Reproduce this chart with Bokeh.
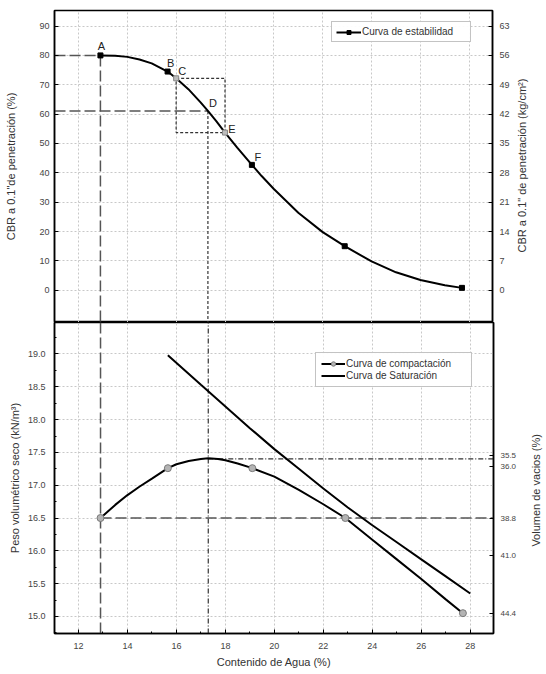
import math
from bokeh.plotting import figure
from bokeh.models import (Range1d, LinearAxis, FixedTicker, SingleIntervalTicker,
                          Legend, LegendItem, ColumnDataSource, PrintfTickFormatter)
from bokeh.layouts import column, row
from bokeh.embed import file_html
from bokeh.resources import INLINE
from bokeh.core.properties import value

# ---------------- data ----------------
# stability curve (CBR) - measured points (black squares)
cbr_pt_w = [12.9, 15.65, 19.1, 22.9, 27.7]
cbr_pt_v = [80.0, 74.5, 42.7, 15.0, 0.8]
# read-off points C and E (grey markers)
ce_w = [16.0, 18.0]
ce_v = [72.2, 53.7]
# smooth stability curve
cbr_curve_w = [12.9, 13.5, 14.0, 14.5, 15.0, 15.65, 16.0, 16.5, 17.0, 17.3, 17.65,
               18.0, 18.5, 19.1, 19.5, 20.0, 21.0, 22.0, 22.9, 24.0, 25.0, 26.0, 27.0, 27.7]
cbr_curve_v = [80.0, 79.9, 79.5, 78.6, 77.3, 74.5, 72.2, 68.5, 64.0, 61.1, 57.5,
               53.7, 48.6, 42.7, 38.9, 34.5, 26.4, 19.8, 15.0, 9.8, 6.1, 3.5, 1.7, 0.8]
letters = ["A", "B", "C", "D", "E", "F"]
letter_w = [12.9, 15.65, 16.0, 17.3, 18.0, 19.1]
letter_v = [80.0, 74.5, 72.2, 61.1, 53.7, 42.7]

cbr_ticks = [0, 10, 20, 30, 40, 50, 60, 70, 80, 90]
kg_ticks = [0, 7, 14, 21, 28, 35, 42, 49, 56, 63]
kg_per_cbr = 0.7

# compaction curve - measured points (grey circles)
comp_w = [12.9, 15.65, 19.1, 22.9, 27.7]
comp_g = [16.5, 17.26, 17.26, 16.5, 15.05]
# smooth compaction curve
comp_curve_w = [12.9, 13.5, 14.0, 14.5, 15.0, 15.65, 16.0, 16.5, 17.0, 17.3, 17.7,
                18.0, 18.5, 19.1, 20.0, 21.0, 22.0, 22.9, 24.0, 25.0, 26.0, 27.0, 27.7]
comp_curve_g = [16.5, 16.7, 16.85, 16.98, 17.1, 17.26, 17.32, 17.37, 17.4, 17.41, 17.4,
                17.38, 17.33, 17.26, 17.13, 16.93, 16.71, 16.5, 16.17, 15.87, 15.57, 15.26, 15.05]
# saturation curve
sat_w = [15.65, 17.0, 18.0, 19.0, 20.0, 21.0, 22.0, 23.0, 24.0, 25.0, 26.0, 27.0, 28.0]
sat_g = [18.98, 18.53, 18.2, 17.87, 17.55, 17.25, 16.95, 16.66, 16.39, 16.13, 15.87, 15.61, 15.35]

w_opt = 17.3     # optimum water content
g_max = 17.4     # max dry unit weight
cbr_opt = 61.1   # CBR at optimum

void_labels = ["35.5", "36.0", "38.8", "41.0", "44.4"]
void_at_g = [17.46, 17.29, 16.5, 15.93, 15.04]

FONT = "Liberation Sans"

def style_axis(ax, size="9px"):
    ax.axis_line_width = 1.5
    ax.axis_line_color = "black"
    ax.major_tick_in = 4
    ax.major_tick_out = 0
    ax.minor_tick_in = 2
    ax.minor_tick_out = 0
    ax.major_tick_line_color = "black"
    ax.minor_tick_line_color = "black"
    ax.major_label_text_font = FONT
    ax.major_label_text_font_size = size
    ax.major_label_text_color = "#444444"
    ax.axis_label_text_font = FONT
    ax.axis_label_text_font_size = "11px"
    ax.axis_label_text_font_style = "normal"
    ax.axis_label_text_color = "#333333"

def style_grid(p):
    for g in p.grid:
        g.grid_line_color = "#c8c8c8"
        g.grid_line_dash = "2 2"
        g.grid_line_width = 1

def side_title(text, width, height, y_center):
    """Narrow strip holding a right-hand axis title that reads bottom-to-top."""
    s = figure(width=width, height=height, x_range=Range1d(0, 1), y_range=Range1d(height, 0),
               output_backend="svg", toolbar_location=None,
               x_axis_location=None, y_axis_location=None,
               min_border_left=0, min_border_right=0, min_border_top=0, min_border_bottom=0)
    s.outline_line_color = None
    s.grid.visible = False
    s.text(x=[0.5], y=[y_center], text=[text], angle=math.pi / 2,
           text_font=value(FONT), text_font_size="11px", text_color="#333333",
           text_align="center", text_baseline="middle")
    return s

x_range = Range1d(11.02, 28.95)

# ---------------- top panel ----------------
top = figure(width=512, height=322, x_range=x_range, y_range=Range1d(-11, 95.3),
             output_backend="svg", toolbar_location=None, x_axis_location=None,
             min_border_left=54, min_border_right=19, min_border_top=10, min_border_bottom=0)
top.outline_line_color = "black"
top.outline_line_width = 1.5
top.xgrid.ticker = SingleIntervalTicker(interval=2)
top.yaxis.ticker = FixedTicker(ticks=cbr_ticks)
top.yaxis.axis_label = "CBR a 0.1\"de penetración (%)"
style_axis(top.yaxis[0])
top.yaxis.minor_tick_line_color = None
top.yaxis.major_label_standoff = 5
top.yaxis.axis_label_standoff = 19

yr = top.y_range
top.extra_y_ranges = {"kg": Range1d(yr.start * kg_per_cbr, yr.end * kg_per_cbr)}
ax_r = LinearAxis(y_range_name="kg", ticker=FixedTicker(ticks=kg_ticks))
style_axis(ax_r)
ax_r.minor_tick_line_color = None
ax_r.major_label_standoff = 7
top.add_layout(ax_r, "right")
style_grid(top)

A_w, A_v = cbr_pt_w[0], cbr_pt_v[0]
long_dash = dict(line_color="#555555", line_width=1.5, line_dash="11 4")
short_dash = dict(line_color="#333333", line_width=1.2, line_dash="3 2")
top.segment(x0=[x_range.start], y0=[A_v], x1=[A_w], y1=[A_v], **long_dash)
top.segment(x0=[A_w], y0=[A_v], x1=[A_w], y1=[yr.start], **long_dash)
top.segment(x0=[x_range.start], y0=[cbr_opt], x1=[w_opt], y1=[cbr_opt], **long_dash)
top.segment(x0=[w_opt], y0=[cbr_opt], x1=[w_opt], y1=[yr.start], **short_dash)
top.quad(left=[ce_w[0]], right=[ce_w[1]], top=[ce_v[0]], bottom=[ce_v[1]],
         fill_alpha=0, **short_dash)

r_cl = top.line(cbr_curve_w, cbr_curve_v, line_color="black", line_width=2)
r_cp = top.scatter(cbr_pt_w, cbr_pt_v, marker="square", size=5, fill_color="black", line_color="black")
top.scatter(ce_w, ce_v, marker="square", size=5, fill_color="#bdbdbd", line_color="#888888")

lab_src = ColumnDataSource(dict(x=letter_w, y=letter_v, t=letters,
                                dx=[1, 3, 6, 5, 7, 6], dy=[-9, -9, -7, -8, -4, -8]))
top.text(x="x", y="y", text="t", x_offset="dx", y_offset="dy", source=lab_src,
         text_font=value(FONT), text_font_size="11px", text_color="#222222",
         text_align="center", text_baseline="middle")

leg_t = Legend(items=[LegendItem(label="Curva de estabilidad", renderers=[r_cl, r_cp])],
               location=(277, 280))
leg_t.border_line_color = "#888888"
leg_t.label_text_font = FONT
leg_t.label_text_font_size = "10px"
leg_t.label_text_color = "#333333"
leg_t.glyph_width = 25
leg_t.glyph_height = 10
leg_t.label_height = 10
leg_t.label_standoff = 1
leg_t.padding = 4
leg_t.spacing = 0
leg_t.margin = 0
leg_t.label_width = 104
top.add_layout(leg_t)

top_title = side_title("CBR a 0.1\" de penetración (kg/cm²)", 18, 322, 160)

# ---------------- bottom panel ----------------
bot = figure(width=524, height=352, x_range=x_range, y_range=Range1d(14.74, 19.48),
             output_backend="svg", toolbar_location=None,
             min_border_left=54, min_border_right=31, min_border_top=0, min_border_bottom=41)
bot.outline_line_color = "black"
bot.outline_line_width = 1.5
bot.xaxis.ticker = SingleIntervalTicker(interval=2, num_minor_ticks=2)
bot.xaxis.axis_label = "Contenido de Agua (%)"
style_axis(bot.xaxis[0])
bot.xaxis.major_label_standoff = 9
bot.xaxis.axis_label_standoff = 4
bot.yaxis.ticker = SingleIntervalTicker(interval=0.5, num_minor_ticks=2)
bot.yaxis.formatter = PrintfTickFormatter(format="%.1f")
bot.yaxis.axis_label = "Peso volumétrico seco (kN/m³)"
style_axis(bot.yaxis[0])
bot.yaxis.major_label_standoff = 9
bot.yaxis.axis_label_standoff = 4

yb = bot.y_range
bot.extra_y_ranges = {"void": Range1d(yb.start, yb.end)}
ax_v = LinearAxis(y_range_name="void", ticker=FixedTicker(ticks=void_at_g),
                  major_label_overrides={g: s for g, s in zip(void_at_g, void_labels)})
style_axis(ax_v, "8px")
ax_v.major_label_standoff = 7
bot.add_layout(ax_v, "right")
style_grid(bot)

dash_dot = dict(line_color="#333333", line_width=1.2, line_dash="5 2 1 2")
bot.segment(x0=[A_w], y0=[yb.start], x1=[A_w], y1=[yb.end], **long_dash)
bot.segment(x0=[w_opt], y0=[yb.start], x1=[w_opt], y1=[yb.end], **dash_dot)
bot.segment(x0=[comp_w[0]], y0=[comp_g[0]], x1=[x_range.end], y1=[comp_g[0]], **long_dash)
bot.segment(x0=[w_opt], y0=[g_max], x1=[x_range.end], y1=[g_max], **dash_dot)

r_sat = bot.line(sat_w, sat_g, line_color="black", line_width=2)
r_ccl = bot.line(comp_curve_w, comp_curve_g, line_color="black", line_width=2)
r_ccp = bot.scatter(comp_w, comp_g, marker="circle", size=7, fill_color="#b4b4b4",
                    line_color="#7a7a7a", line_width=1)

leg_b = Legend(items=[LegendItem(label="Curva de compactación", renderers=[r_ccl, r_ccp]),
                      LegendItem(label="Curva de Saturación", renderers=[r_sat])],
               location=(261, 246))
leg_b.border_line_color = "#888888"
leg_b.label_text_font = FONT
leg_b.label_text_font_size = "10px"
leg_b.label_text_color = "#333333"
leg_b.glyph_width = 24
leg_b.glyph_height = 11
leg_b.label_height = 11
leg_b.label_standoff = 1
leg_b.padding = 5
leg_b.spacing = 1
leg_b.margin = 0
leg_b.label_width = 120
bot.add_layout(leg_b)

bot_title = side_title("Volumen de vacios (%)", 22, 352, 190)

layout = column(row(top, top_title, spacing=0), row(bot, bot_title, spacing=0), spacing=0)
open("out.html", "w").write(file_html(layout, INLINE))
